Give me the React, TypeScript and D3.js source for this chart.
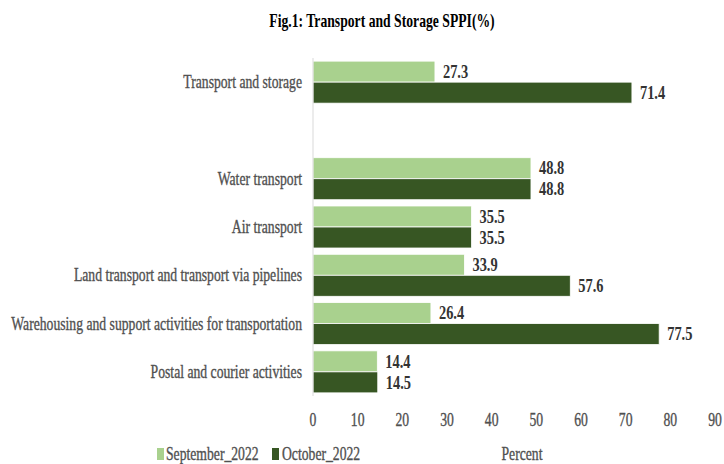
import * as d3 from 'd3';

const categories = [
  'Transport and storage',
  '',
  'Water transport',
  'Air transport',
  'Land transport and transport via pipelines',
  'Warehousing and support activities for transportation',
  'Postal and courier activities',
];
const september2022 = [27.3, null, 48.8, 35.5, 33.9, 26.4, 14.4];
const october2022 = [71.4, null, 48.8, 35.5, 57.6, 77.5, 14.5];
const seriesNames = ['September_2022', 'October_2022'];
const xTicks = [0, 10, 20, 30, 40, 50, 60, 70, 80, 90];

const W = 724;
const H = 464;
const LIGHT = '#a9d18e';
const DARK = '#375623';
const FONT = '"Liberation Serif", "Times New Roman", serif';
const SX = 0.76;

function CText({ x, y, anchor = 'start', size = 18, weight = 'normal', fill = '#404040', children }: any) {
  return (
    <text
      transform={`translate(${x},${y}) scale(${SX},1)`}
      textAnchor={anchor}
      dominantBaseline="central"
      fontFamily={FONT}
      fontSize={size}
      fontWeight={weight}
      fill={fill}
      stroke={weight === 'normal' ? fill : 'none'}
      strokeWidth={0.35}
    >
      {children}
    </text>
  );
}

export default function App() {
  const x = d3.scaleLinear().domain([0, 90]).range([313, 715]);
  const keys = categories.map((c, i) => `${i}`);
  const y = d3.scaleBand().domain(keys).range([58, 396]).paddingInner(0.13).paddingOuter(0.065);
  const sub = d3.scaleBand().domain(['0', '1']).range([0, y.bandwidth()]);
  const series = [september2022, october2022];
  const colors = [LIGHT, DARK];

  return (
    <svg width={W} height={H} style={{ position: 'absolute', left: 0, top: 0 }}>
      <rect width={W} height={H} fill="#fff" />
      <CText x={382} y={21} anchor="middle" size={18} weight="bold" fill="#000">
        Fig.1: Transport and Storage SPPI(%)
      </CText>

      {categories.map((c, i) =>
        c ? (
          <CText key={c} x={302} y={(y(keys[i]) ?? 0) + y.bandwidth() / 2} anchor="end" fill="#505050">
            {c}
          </CText>
        ) : null
      )}

      {series.map((vals, s) =>
        vals.map((v, i) =>
          v == null ? null : (
            <g key={`${s}-${i}`}>
              <rect
                x={x(0)}
                y={(y(keys[i]) ?? 0) + (sub(`${s}`) ?? 0)}
                width={x(v) - x(0)}
                height={sub.bandwidth()}
                fill={colors[s]}
                stroke="#fff"
                strokeWidth={0.8}
              />
              <CText
                x={x(v) + 8}
                y={(y(keys[i]) ?? 0) + (sub(`${s}`) ?? 0) + sub.bandwidth() / 2}
                size={19}
                weight="bold"
                fill="#333"
              >
                {v.toFixed(1)}
              </CText>
            </g>
          )
        )
      )}

      <line x1={x(0)} x2={x(0)} y1={58} y2={396} stroke="#d9d9d9" strokeWidth={1} />

      {xTicks.map((t) => (
        <CText key={t} x={x(t)} y={420} anchor="middle" fill="#505050">
          {t}
        </CText>
      ))}

      <CText x={522} y={454} anchor="middle" fill="#505050">
        Percent
      </CText>

      <rect x={157} y={448} width={7} height={12} fill={LIGHT} />
      <CText x={166} y={454} fill="#505050">
        {seriesNames[0]}
      </CText>
      <rect x={272} y={448} width={7} height={12} fill={DARK} />
      <CText x={282} y={454} fill="#505050">
        {seriesNames[1]}
      </CText>
    </svg>
  );
}
